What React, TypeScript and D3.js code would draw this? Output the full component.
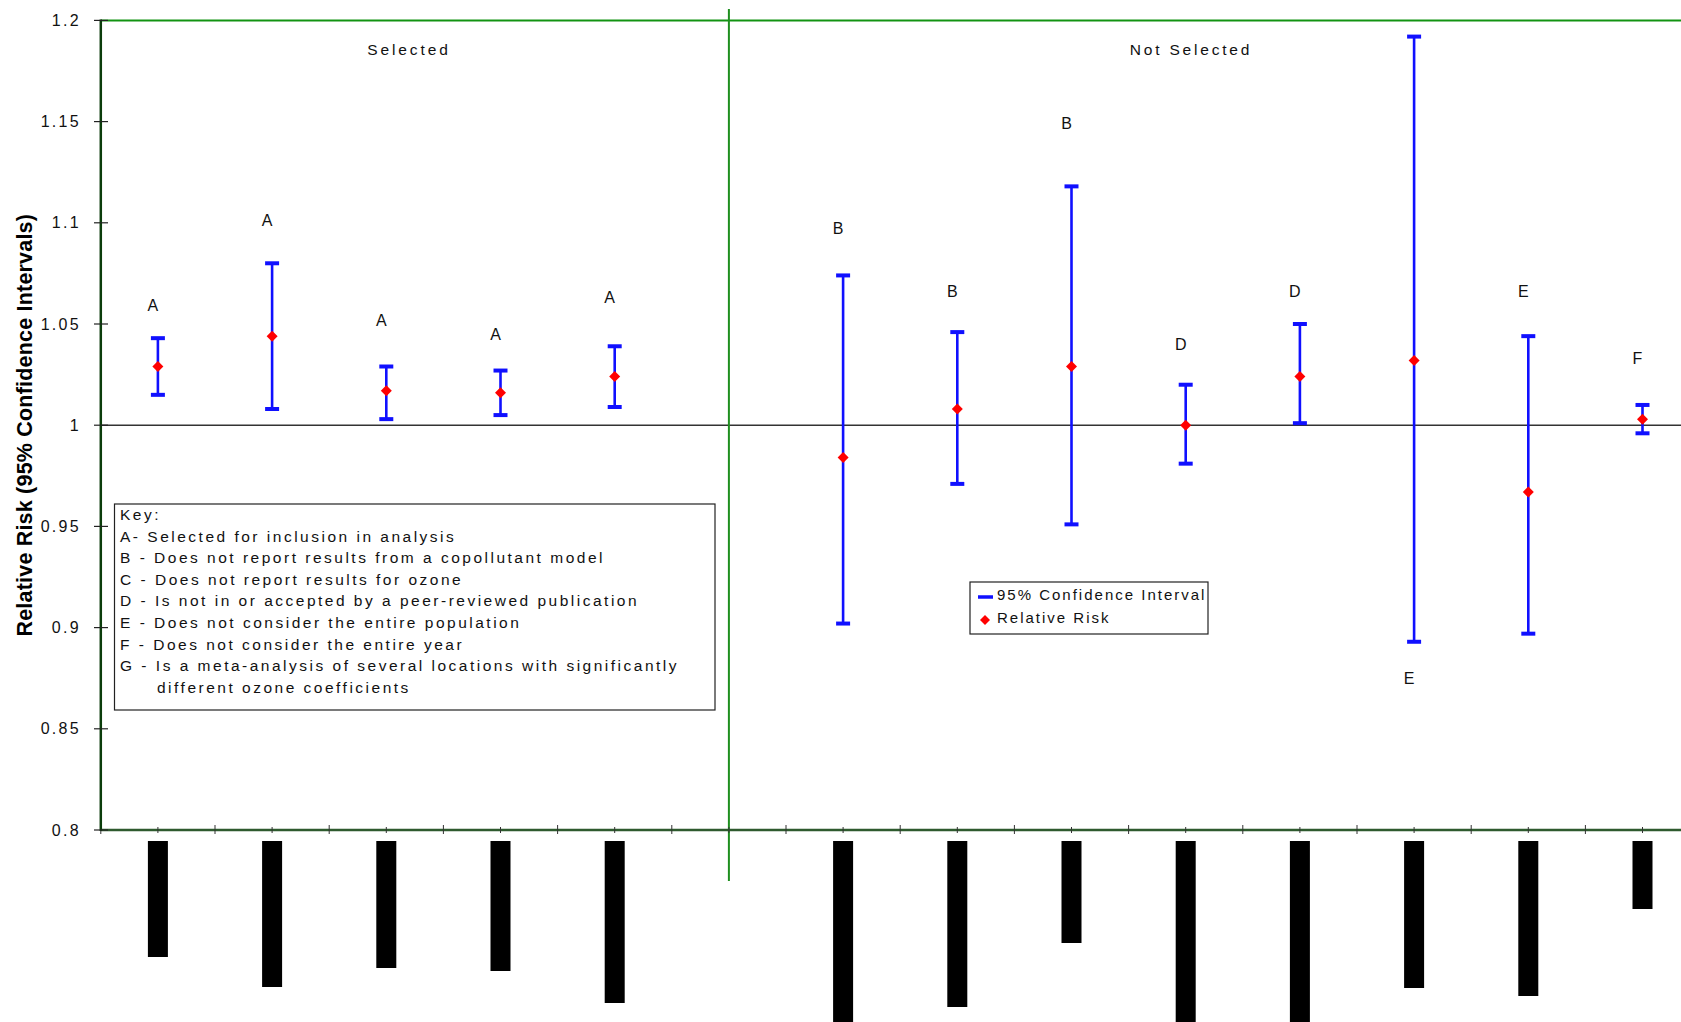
import React from "react";
import * as d3 from "d3";

// ---- data ----
const groups = ["Selected", "Not Selected"];
const codes = ["A", "A", "A", "A", "A", "", "B", "B", "B", "D", "D", "E", "E", "F"];
const relativeRisk = [1.029, 1.044, 1.017, 1.016, 1.024, null, 0.984, 1.008, 1.029, 1.0, 1.024, 1.032, 0.967, 1.003];
const ciUpper = [1.043, 1.080, 1.029, 1.027, 1.039, null, 1.074, 1.046, 1.118, 1.020, 1.050, 1.192, 1.044, 1.010];
const ciLower = [1.015, 1.008, 1.003, 1.005, 1.009, null, 0.902, 0.971, 0.951, 0.981, 1.001, 0.893, 0.897, 0.996];
const codeLabelValue = [1.059, 1.101, 1.052, 1.045, 1.063, null, 1.097, 1.066, 1.149, 1.040, 1.066, 0.875, 1.066, 1.033];
// length of the (blacked-out) category labels
const redactedLabelLength = [116, 146, 127, 130, 162, null, 190, 166, 102, 190, 190, 147, 155, 68];
const yTicks = [0.8, 0.85, 0.9, 0.95, 1, 1.05, 1.1, 1.15, 1.2];
const keyLines = [
  "Key:",
  "A- Selected for inclusion in analysis",
  "B - Does not report results from a copollutant model",
  "C - Does not report results for ozone",
  "D - Is not in or accepted by a peer-reviewed publication",
  "E - Does not consider the entire population",
  "F - Does not consider the entire year",
  "G - Is a meta-analysis of several locations with significantly",
  "different ozone coefficients",
];
const legendItems = ["95% Confidence Interval", "Relative Risk"];

const W = 1681;
const H = 1022;
const FONT = "'Liberation Sans', Arial, Helvetica, sans-serif";

export default function App() {
  const left = 100.8;
  const slot = 114.2;
  const top = 20.4;
  const bottom = 830;
  const slots = d3.range(codes.length);
  const x = d3
    .scaleBand<number>()
    .domain(slots)
    .range([left, left + slot * codes.length])
    .paddingInner(0)
    .paddingOuter(0);
  const cx = (i: number) => (x(i) as number) + x.bandwidth() / 2;
  const y = d3.scaleLinear().domain([0.8, 1.2]).range([bottom, top]);
  const barLen = d3.scaleLinear().domain([0, 200]).range([0, 200]);
  const fmt = (v: number) => String(+v.toFixed(2));
  const divX = (x(5) as number) + x.bandwidth() / 2;

  const blue = "#1010ff";
  const red = "#ff0000";
  const diamond = (px: number, py: number, r = 5.5) =>
    `M${px},${py - r}L${px + r},${py}L${px},${py + r}L${px - r},${py}Z`;

  return (
    <svg
      width={W}
      height={H}
      style={{ position: "absolute", left: 0, top: 0, background: "#fff" }}
      fontFamily={FONT}
    >
      {/* top line */}
      <line x1={left} x2={W} y1={top} y2={top} stroke="#129312" strokeWidth={2} />
      {/* reference line at 1 */}
      <line x1={left} x2={W} y1={y(1)} y2={y(1)} stroke="#333" strokeWidth={1.5} />
      {/* divider */}
      <line x1={divX} x2={divX} y1={9} y2={881} stroke="#1f8f1f" strokeWidth={2} />

      {/* x axis */}
      <line x1={left} x2={W} y1={bottom} y2={bottom} stroke="#2e5a2e" strokeWidth={2.5} />
      {slots.map((i) => (
        <g key={"xt" + i}>
          <line x1={x(i) as number} x2={x(i) as number} y1={bottom - 5} y2={bottom + 4} stroke="#333" strokeWidth={1} />
          <line x1={cx(i)} x2={cx(i)} y1={bottom - 3} y2={bottom + 3} stroke="#333" strokeWidth={1} />
        </g>
      ))}

      {/* y axis */}
      <line x1={left} x2={left} y1={top - 1} y2={bottom + 1} stroke="#0b3d0b" strokeWidth={2.5} />
      {yTicks.map((t) => (
        <g key={"yt" + t}>
          <line x1={94} x2={108} y1={y(t)} y2={y(t)} stroke="#222" strokeWidth={1.2} />
          <text
            x={81}
            y={y(t)}
            dy="0.35em"
            textAnchor="end"
            fontSize={16}
            letterSpacing={2.3}
            fill="#111"
          >
            {fmt(t)}
          </text>
        </g>
      ))}
      <text
        transform={`translate(31.5,${y(1)}) rotate(-90)`}
        textAnchor="middle"
        fontSize={21.5}
        letterSpacing={0.2}
        fontWeight="bold"
        fill="#000"
      >
        Relative Risk (95% Confidence Intervals)
      </text>

      {/* group titles */}
      <text x={409} y={55} textAnchor="middle" fontSize={15.5} letterSpacing={2.9} fill="#111">
        {groups[0]}
      </text>
      <text x={1191} y={55} textAnchor="middle" fontSize={15.5} letterSpacing={2.8} fill="#111">
        {groups[1]}
      </text>

      {/* key box */}
      <rect x={114.5} y={504} width={600.5} height={206} fill="#fff" stroke="#222" strokeWidth={1.2} />
      {keyLines.map((l, i) => (
        <text
          key={"k" + i}
          x={i === keyLines.length - 1 ? 157 : 120}
          y={520 + i * 21.6}
          fontSize={15.5}
          letterSpacing={2.5}
          fill="#111"
        >
          {l}
        </text>
      ))}

      {/* error bars */}
      {slots.map((i) => {
        const u = ciUpper[i];
        const lo = ciLower[i];
        if (u == null || lo == null) return null;
        const px = cx(i);
        return (
          <g key={"e" + i}>
            <line x1={px} x2={px} y1={y(u)} y2={y(lo)} stroke={blue} strokeWidth={2.6} />
            <line x1={px - 7} x2={px + 7} y1={y(u)} y2={y(u)} stroke={blue} strokeWidth={4} />
            <line x1={px - 7} x2={px + 7} y1={y(lo)} y2={y(lo)} stroke={blue} strokeWidth={4} />
          </g>
        );
      })}
      {/* relative risk diamonds */}
      {slots.map((i) => {
        const v = relativeRisk[i];
        if (v == null) return null;
        return <path key={"d" + i} d={diamond(cx(i), y(v))} fill={red} />;
      })}
      {/* code labels */}
      {slots.map((i) => {
        const v = codeLabelValue[i];
        if (v == null) return null;
        return (
          <text key={"c" + i} x={cx(i) - 5} y={y(v)} dy="0.35em" textAnchor="middle" fontSize={16} fill="#111">
            {codes[i]}
          </text>
        );
      })}

      {/* blacked-out category labels */}
      {slots.map((i) => {
        const len = redactedLabelLength[i];
        if (len == null) return null;
        return <rect key={"b" + i} x={cx(i) - 10} y={841} width={20} height={barLen(len)} fill="#000" />;
      })}

      {/* legend */}
      <rect x={970} y={582} width={238} height={52} fill="#fff" stroke="#222" strokeWidth={1.2} />
      <line x1={978} x2={993} y1={597} y2={597} stroke={blue} strokeWidth={3.5} />
      <path d={diamond(985, 620, 5)} fill={red} />
      {legendItems.map((t, i) => (
        <text key={"l" + i} x={997} y={595 + i * 23} dy="0.35em" fontSize={15} letterSpacing={2} fill="#111">
          {t}
        </text>
      ))}
    </svg>
  );
}
